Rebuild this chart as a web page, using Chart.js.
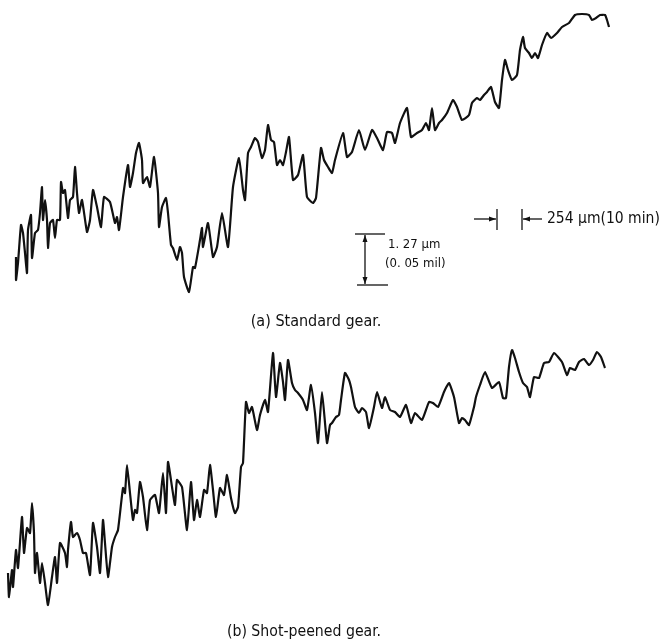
<!DOCTYPE html>
<html>
<head>
<meta charset="utf-8">
<script src="https://cdn.jsdelivr.net/npm/chart.js@4.4.0/dist/chart.umd.min.js"></script>
<style>
  html, body { margin: 0; padding: 0; background: #fff; }
  #wrap { width: 664px; height: 641px; }
</style>
</head>
<body>
<div id="wrap"><canvas id="myChart" width="664" height="641"></canvas></div>
<script>
// Trazas de perfil (posicion a lo largo, altura del trazo; eje y invertido)
let traceAX = [16,16,18,21,23,25,27,28,31,32,35,38,40,42,43,45,47,48,50,53,55,57,60,61,63,65,68,70,73,75,77,79,82,87,90,93,97,101,104,110,115,117,119,123,128,130,133,136,139,142,143,147,150,154,158,159,162,166,168,171,173,177,180,182,184,189,193,195,200,202,203,208,213,217,222,228,233,239,243,245,248,251,255,258,262,265,268,271,274,277,280,283,286,289,293,298,303,307,313,316,321,324,328,332,335,343,347,352,359,365,372,377,383,387,392,395,400,407,411,417,422,426,429,432,435,439,442,447,453,457,462,469,472,477,480,484,487,491,495,499,502,505,508,512,517,520,523,525,529,532,535,538,542,547,551,557,562,569,575,582,589,592,596,600,605,607,609];
let traceAY = [257,280,263,225,233,253,273,230,215,258,233,230,213,187,220,200,220,248,223,220,238,220,220,182,193,190,218,200,197,167,193,213,200,232,220,190,207,227,197,202,223,217,230,197,165,187,173,153,143,160,183,177,187,157,193,227,207,198,213,245,248,260,247,253,277,292,267,268,240,228,247,223,257,247,213,247,187,158,190,200,153,147,138,142,158,150,125,140,142,165,160,165,152,137,180,175,155,197,203,198,148,160,167,173,160,133,157,152,130,150,130,138,150,132,133,143,123,108,137,133,130,123,130,108,130,123,120,113,100,107,120,115,103,98,100,95,92,87,102,108,80,60,70,80,75,50,37,48,53,58,53,58,45,33,38,33,27,23,15,14,15,20,18,15,15,20,27];

let traceBX = [8,9,12,13,16,18,22,24,27,30,32,34,35,37,40,42,45,48,52,55,57,60,65,67,68,71,73,77,80,83,86,90,93,97,100,103,105,108,112,115,118,123,125,127,130,133,135,137,140,143,147,150,155,159,163,166,168,172,175,177,182,187,191,194,197,200,204,207,210,213,216,220,224,227,231,235,238,241,243,246,249,252,257,260,265,268,273,276,280,283,285,288,292,295,298,303,307,311,315,318,322,327,330,332,336,339,341,345,349,351,355,359,362,366,369,374,377,382,385,390,395,400,406,411,415,422,429,433,438,444,449,454,459,462,465,469,474,476,480,485,492,499,503,506,509,512,515,519,523,527,530,534,539,544,549,554,562,567,570,575,579,584,589,593,597,601,605];
let traceBY = [573,597,570,587,550,568,517,553,528,533,503,533,573,553,583,563,583,605,577,557,583,543,553,567,550,522,537,533,540,553,553,575,523,547,573,520,543,577,547,537,530,488,493,465,493,520,510,513,482,497,530,500,495,513,473,513,462,487,505,480,487,530,482,520,500,517,490,493,465,490,517,488,495,475,498,513,507,467,463,402,413,407,430,415,400,412,353,397,363,382,400,360,383,390,393,400,410,385,413,443,392,443,425,423,417,415,400,373,380,387,407,413,408,412,428,407,392,408,397,410,412,417,405,423,413,420,402,403,407,392,383,397,423,418,420,425,407,397,385,372,388,382,398,398,367,350,358,372,383,387,397,377,378,363,362,353,362,375,368,370,362,359,365,360,352,357,368,375];

// Textos
let captionA  = "(a) Standard gear.";
let captionB  = "(b) Shot-peened gear.";
let vertLabel = ["1. 27 \u00b5m", "(0. 05 mil)"];
let horzLabel = "254 \u00b5m(10 min)";

function toPts(xs, ys) {
  return xs.map((x, i) => ({ x: x, y: ys[i] }));
}

const FAM = "'DejaVu Sans Condensed', 'Liberation Sans Narrow', 'DejaVu Sans', sans-serif";

// plugin para escalas y leyendas
const anotaciones = {
  id: "anotaciones",
  afterDraw(chart) {
    const ctx = chart.ctx;
    const sx = chart.scales.x, sy = chart.scales.y;
    const X = v => sx.getPixelForValue(v);
    const Y = v => sy.getPixelForValue(v);
    ctx.save();
    ctx.strokeStyle = "#111";
    ctx.fillStyle = "#111";
    ctx.lineWidth = 1.3;

    function arrowHead(x, y, dir) {
      ctx.beginPath();
      if (dir === "up")    { ctx.moveTo(x, y); ctx.lineTo(x - 2.5, y + 7); ctx.lineTo(x + 2.5, y + 7); }
      if (dir === "down")  { ctx.moveTo(x, y); ctx.lineTo(x - 2.5, y - 7); ctx.lineTo(x + 2.5, y - 7); }
      if (dir === "right") { ctx.moveTo(x, y); ctx.lineTo(x - 7, y - 2.5); ctx.lineTo(x - 7, y + 2.5); }
      if (dir === "left")  { ctx.moveTo(x, y); ctx.lineTo(x + 7, y - 2.5); ctx.lineTo(x + 7, y + 2.5); }
      ctx.closePath();
      ctx.fill();
    }
    function line(x1, y1, x2, y2) {
      ctx.beginPath(); ctx.moveTo(x1, y1); ctx.lineTo(x2, y2); ctx.stroke();
    }

    // escala vertical 1.27 um
    line(X(355), Y(234), X(385), Y(234));
    line(X(357), Y(285), X(388), Y(285));
    line(X(365), Y(235), X(365), Y(284));
    arrowHead(X(365), Y(235), "up");
    arrowHead(X(365), Y(284), "down");

    // escala horizontal 254 um
    line(X(497), Y(209), X(497), Y(230));
    line(X(522), Y(209), X(522), Y(230));
    line(X(474), Y(219), X(496), Y(219));
    arrowHead(X(496), Y(219), "right");
    line(X(523), Y(219), X(542), Y(219));
    arrowHead(X(523), Y(219), "left");

    ctx.textBaseline = "middle";
    ctx.textAlign = "left";
    ctx.font = "15.5px " + FAM;
    ctx.fillText(horzLabel, X(547), Y(219));
    ctx.font = "13px " + FAM;
    ctx.fillText(vertLabel[0], X(388), Y(245));
    ctx.fillText(vertLabel[1], X(385), Y(264));

    ctx.textAlign = "center";
    ctx.font = "16px " + FAM;
    ctx.fillText(captionA, X(316), Y(322));
    ctx.font = "15.7px " + FAM;
    ctx.fillText(captionB, X(304), Y(632));
    ctx.restore();
  }
};

const datasets = [
  { label: "Standard gear", data: toPts(traceAX, traceAY), borderColor: "#111", borderWidth: 2.2, pointRadius: 0, showLine: true, tension: 0.15, fill: false },
  { label: "Shot-peened gear", data: toPts(traceBX, traceBY), borderColor: "#111", borderWidth: 2.2, pointRadius: 0, showLine: true, tension: 0.15, fill: false }
];

const config = {
  type: "scatter",
  data: { datasets },
  options: {
    responsive: false,
    animation: false,
    devicePixelRatio: 1,
    layout: { padding: 0 },
    plugins: { legend: { display: false }, tooltip: { enabled: false } },
    scales: {
      x: { type: "linear", min: 0, max: 664, display: false },
      y: { type: "linear", min: 0, max: 641, reverse: true, display: false }
    }
  },
  plugins: [anotaciones]
};

const myChart = document.getElementById("myChart");
myChart.style.backgroundColor = "white";
new Chart(myChart, config);
</script>
</body>
</html>
